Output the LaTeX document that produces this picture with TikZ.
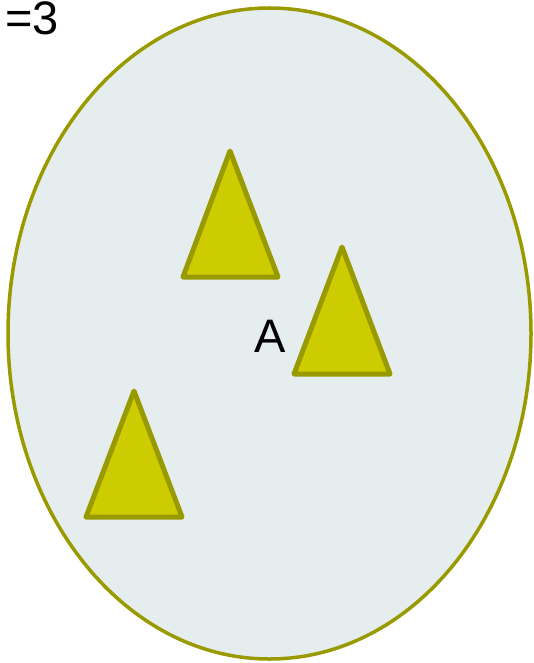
\documentclass[tikz,border=0pt]{standalone}
\usepackage{fontspec}
\setmainfont{Liberation Sans}
\usetikzlibrary{positioning}
\definecolor{olive}{HTML}{999900}
\definecolor{tent}{HTML}{CCCC00}
\definecolor{cloud}{HTML}{E6EDEE}
\tikzset{
  region/.style={draw=olive, fill=cloud, line width=3.5pt},
  tent/.style={draw=olive, fill=tent, line width=5pt, line join=round},
  lbl/.style={inner sep=0pt, font=\fontsize{47}{56}\selectfont}
}

\begin{document}
\begin{tikzpicture}[x=1pt, y=-1pt]
  \useasboundingbox (0,0) rectangle (534,663);
  \draw[region] (269.5,333.5) ellipse [x radius=261.5, y radius=325.5];
  %%
  \draw[tent] (230,151) -- (278,277) -- (183,277) -- cycle;
  \draw[tent] (342,247) -- (390,374) -- (294,374) -- cycle;
  \draw[tent] (134,391) -- (182,517) -- (86,517) -- cycle;
  %%
  \node[lbl, anchor=base] (a) at (270,352) {A};
  \node[lbl, anchor=base east] (count) at (59,35) {=3};
\end{tikzpicture}
\end{document}
